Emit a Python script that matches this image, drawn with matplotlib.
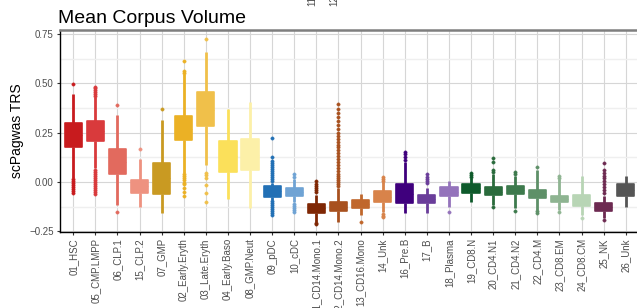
import matplotlib
matplotlib.use("Agg")
import matplotlib.pyplot as plt
from matplotlib.ticker import MultipleLocator

plt.rcParams['font.family'] = ['Liberation Sans', 'DejaVu Sans']

categories = ["01_HSC", "05_CMP.LMPP", "06_CLP.1", "15_CLP.2", "07_GMP",
              "02_Early.Eryth", "03_Late.Eryth", "04_Early.Baso", "08_GMP.Neut",
              "09_pDC", "10_cDC", "11_CD14.Mono.1", "12_CD14.Mono.2",
              "13_CD16.Mono", "14_Unk", "16_Pre.B", "17_B", "18_Plasma",
              "19_CD8.N", "20_CD4.N1", "21_CD4.N2", "22_CD4.M", "23_CD8.EM",
              "24_CD8.CM", "25_NK", "26_Unk"]

q1 = [0.179, 0.206, 0.041, -0.054, -0.061, 0.213, 0.285, 0.052, 0.059,
      -0.074, -0.071, -0.155, -0.147, -0.130, -0.103, -0.108, -0.108, -0.071,
      -0.054, -0.068, -0.061, -0.083, -0.101, -0.120, -0.147, -0.069]
q3 = [0.300, 0.311, 0.166, 0.010, 0.098, 0.336, 0.454, 0.209, 0.218,
      -0.020, -0.032, -0.111, -0.100, -0.091, -0.046, -0.012, -0.066, -0.024,
      -0.010, -0.027, -0.019, -0.041, -0.069, -0.066, -0.108, -0.010]
med = [0.240, 0.258, 0.100, -0.020, 0.020, 0.270, 0.365, 0.130, 0.135,
       -0.045, -0.050, -0.133, -0.125, -0.110, -0.075, -0.060, -0.087, -0.048,
       -0.032, -0.048, -0.040, -0.062, -0.085, -0.093, -0.128, -0.040]
whislo = [0.019, 0.069, -0.117, -0.128, -0.159, 0.044, 0.086, -0.088, -0.133,
          -0.090, -0.100, -0.200, -0.200, -0.167, -0.150, -0.155, -0.155, -0.125,
          -0.100, -0.115, -0.130, -0.140, -0.140, -0.165, -0.180, -0.125]
whishi = [0.444, 0.432, 0.340, 0.115, 0.314, 0.546, 0.660, 0.370, 0.407,
          -0.005, 0.013, -0.065, -0.030, -0.061, 0.000, 0.100, -0.030, 0.005,
          0.020, 0.040, 0.030, 0.060, 0.015, 0.032, -0.070, 0.032]
fliers = [
    [0.495, 0.015, 0.005, -0.005, -0.015, -0.025, -0.035, -0.045, -0.054],
    [0.483, 0.475, 0.465, 0.455, 0.445, 0.438, 0.060, 0.050, 0.040, 0.030,
     0.020, 0.010, 0.000, -0.010, -0.020, -0.030, -0.040, -0.050, -0.062],
    [0.390, -0.154],
    [0.166],
    [0.370],
    [0.613, 0.560, 0.553, 0.040, 0.030, 0.020, 0.010, -0.005, -0.010,
     -0.030, -0.050, -0.069],
    [0.723, 0.047, 0.035, 0.022, -0.015, -0.057, -0.101],
    [],
    [],
    [0.221, 0.128, 0.105, 0.095, 0.085, 0.075, 0.065, 0.055, 0.045, 0.035,
     0.025, 0.015, 0.005, -0.095, -0.105, -0.115, -0.125, -0.135, -0.145,
     -0.155, -0.167],
    [0.040, 0.025, -0.110, -0.120, -0.130, -0.140, -0.150],
    [0.007, -0.010, -0.020, -0.030, -0.040, -0.050, -0.205, -0.210],
    [0.395, 0.370, 0.350, 0.330, 0.310, 0.290, 0.270, 0.250, 0.235, 0.220,
     0.205, 0.190, 0.175, 0.160, 0.145, 0.130, 0.115, 0.100, 0.085, 0.070,
     0.055, 0.040, 0.030, 0.020, 0.010, 0.000, -0.010, -0.020],
    [-0.200],
    [0.027, 0.015, 0.005, -0.160, -0.170, -0.176],
    [0.154, 0.140, 0.125, 0.110],
    [0.039, 0.025, 0.015, 0.005, -0.005],
    [-0.150],
    [0.044, 0.035, 0.028],
    [0.120, 0.100, 0.061, 0.050, -0.125],
    [0.052, 0.040, -0.147],
    [0.078, -0.145, -0.155],
    [0.032, 0.020, -0.152],
    [-0.180],
    [0.095, 0.060, 0.045, 0.030, 0.020, 0.005, -0.010, -0.025, -0.040,
     -0.055, -0.193],
    [],
]
colors = ["#C81B1E", "#D93A3C", "#E26A5E", "#EE9280", "#C99A22",
          "#EBB125", "#F0C04A", "#FBE05A", "#FCF0A8", "#2270B5", "#6FA3D4",
          "#7F2704", "#A8511F", "#C0672C", "#D8834A", "#3F007D", "#6A3D9A",
          "#9473BB", "#0E5A2B", "#2A6B3C", "#3D7A4D", "#5E9068", "#8EB491",
          "#B8D5B5", "#6D2A51", "#555555"]
yticks = [-0.25, 0.00, 0.25, 0.50, 0.75]
ytick_labels = ["\u22120.25", "0.00", "0.25", "0.50", "0.75"]
# fragments of labels from a panel above, cut at the top edge
top_fragments = ["11_CD14.Mono.1", "12_CD14.Mono.2"]

fig = plt.figure(figsize=(6.37, 3.08), dpi=100)
ax = fig.add_axes([60/637, 1-232/308, 579/637, 202/308])

positions = list(range(1, len(categories)+1))
for i, c in enumerate(categories):
    st = [dict(label=c, q1=q1[i], q3=q3[i], med=med[i], whislo=whislo[i],
               whishi=whishi[i], fliers=fliers[i])]
    col = colors[i]
    ax.bxp(st, positions=[positions[i]], widths=0.78, patch_artist=True,
           showcaps=False,
           boxprops=dict(facecolor=col, edgecolor=col, linewidth=1.2, joinstyle='round'),
           whiskerprops=dict(color=col, linewidth=2.0, solid_capstyle='butt'),
           medianprops=dict(color=col, linewidth=0.5),
           flierprops=dict(marker='o', markersize=2.4, markerfacecolor=col,
                           markeredgecolor=col, markeredgewidth=0.3),
           zorder=3)

ax.set_xlim(0.4, 26.6)
ax.set_ylim(-0.253, 0.770)
ax.set_xticks(positions)
ax.set_xticklabels(categories, rotation=90, fontsize=7, color="#4D4D4D")
ax.set_yticks(yticks)
ax.set_yticklabels(ytick_labels, fontsize=7, color="#4D4D4D")
ax.yaxis.set_minor_locator(MultipleLocator(0.125))
ax.tick_params(axis='both', which='major', length=2.5, width=0.8, color="#333333", pad=2)
ax.tick_params(axis='y', which='minor', length=0)

ax.grid(True, which='major', axis='both', color="#D6D6D6", linewidth=0.8, zorder=0)
ax.grid(True, which='minor', axis='y', color="#EFEFEF", linewidth=1.0, zorder=0)
ax.set_axisbelow(True)

for s in ['left', 'bottom']:
    ax.spines[s].set_color('black')
    ax.spines[s].set_linewidth(1.0)
ax.spines['top'].set_color('#7F7F7F')
ax.spines['top'].set_linewidth(1.8)
ax.spines['right'].set_visible(False)

ax.set_ylabel("scPagwas TRS", fontsize=10, color="black", labelpad=4)
fig.text(58/637, 1-23/308, "Mean Corpus Volume", fontsize=14, ha='left',
         va='baseline', color='black')

for xpix, t in zip([311, 333], top_fragments):
    fig.text(xpix/637, 1-6/308, t, rotation=90, fontsize=7, color="#4D4D4D",
             ha='center', va='bottom')

fig.savefig("out.png", dpi=100)
